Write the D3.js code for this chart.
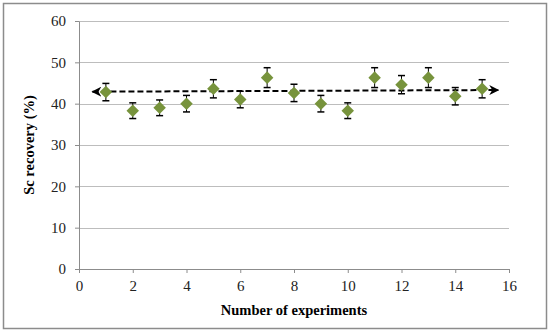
<!DOCTYPE html>
<html>
  <head>
    <meta charset="UTF-8">
    <title>Sc recovery</title>
    <style>
      body { margin: 0; background: #fff; }
      text { font-family: "Liberation Serif", "DejaVu Serif", serif; fill: #000; }
      .grid line { stroke: #bdbdbd; stroke-width: 1px; }
      .axis path, .axis line { stroke: #8c8c8c; }
      .axis text { font-size: 15px; fill: #222; }
      .title { font-size: 14.5px; font-weight: bold; }
    </style>
    <script src="https://d3js.org/d3.v7.min.js"></script>
  </head>
  <body>
    <script>
      // Data
      var experiments = [1, 2, 3, 4, 5, 6, 7, 8, 9, 10, 11, 12, 13, 14, 15];
      var recovery = [42.8, 38.3, 39.0, 40.0, 43.6, 41.0, 46.3, 42.6, 40.0, 38.3, 46.3, 44.6, 46.3, 41.8, 43.6];
      var errors = [2.1, 1.9, 1.9, 2.0, 2.2, 2.0, 2.4, 2.1, 2.0, 1.9, 2.4, 2.2, 2.4, 2.1, 2.2];
      var trendX = [0.5, 15.6];
      var trendY = [42.9, 43.3];
      var xTicks = [0, 2, 4, 6, 8, 10, 12, 14, 16];
      var yTicks = [0, 10, 20, 30, 40, 50, 60];

      var width = 550, height = 332;
      var margin = {top: 21, right: 41, bottom: 63, left: 79};
      var plotW = width - margin.left - margin.right,
          plotH = height - margin.top - margin.bottom;

      var svg = d3.select("body").append("svg")
          .attr("width", width)
          .attr("height", height);

      // outer frame
      svg.append("rect")
          .attr("x", 3.5).attr("y", 3.5)
          .attr("width", 543).attr("height", 325)
          .attr("fill", "none")
          .attr("stroke", "#8c8c8c")
          .attr("stroke-width", 1.5);

      var g = svg.append("g")
          .attr("transform", "translate(" + margin.left + "," + margin.top + ")");

      var x = d3.scaleLinear().domain([0, 16]).range([0, plotW]);
      var y = d3.scaleLinear().domain([0, 60]).range([plotH, 0]);

      // gridlines
      g.append("g").attr("class", "grid")
          .selectAll("line")
          .data(yTicks.filter(function(d) { return d > 0; }))
          .enter().append("line")
          .attr("x1", 0).attr("x2", plotW)
          .attr("y1", function(d) { return Math.round(y(d)) + 0.5; })
          .attr("y2", function(d) { return Math.round(y(d)) + 0.5; });

      // axes
      g.append("g").attr("class", "axis")
          .attr("transform", "translate(0," + plotH + ")")
          .call(d3.axisBottom(x).tickValues(xTicks).tickSize(4).tickSizeOuter(4).tickPadding(7));
      g.append("g").attr("class", "axis")
          .call(d3.axisLeft(y).tickValues(yTicks).tickSize(4).tickSizeOuter(0).tickPadding(9));

      // trend line with arrows
      var defs = svg.append("defs");
      defs.append("marker")
          .attr("id", "arrow")
          .attr("viewBox", "0 0 10 10")
          .attr("refX", 9).attr("refY", 5)
          .attr("markerWidth", 5).attr("markerHeight", 5)
          .attr("orient", "auto-start-reverse")
          .append("path")
          .attr("d", "M0,0 L10,5 L0,10 L3,5 Z")
          .attr("fill", "#000");

      g.append("line")
          .attr("x1", x(trendX[0])).attr("y1", y(trendY[0]))
          .attr("x2", x(trendX[1])).attr("y2", y(trendY[1]))
          .attr("stroke", "#000")
          .attr("stroke-width", 2)
          .attr("stroke-dasharray", "6,3")
          .attr("marker-start", "url(#arrow)")
          .attr("marker-end", "url(#arrow)");

      // error bars
      var bars = g.append("g").selectAll("g")
          .data(experiments)
          .enter().append("g");
      bars.append("line")
          .attr("x1", function(d) { return x(d); })
          .attr("x2", function(d) { return x(d); })
          .attr("y1", function(d, i) { return y(recovery[i] + errors[i]); })
          .attr("y2", function(d, i) { return y(recovery[i] - errors[i]); })
          .attr("stroke", "#000").attr("stroke-width", 1);
      [1, -1].forEach(function(s) {
          bars.append("line")
              .attr("x1", function(d) { return x(d) - 3.5; })
              .attr("x2", function(d) { return x(d) + 3.5; })
              .attr("y1", function(d, i) { return y(recovery[i] + s * errors[i]); })
              .attr("y2", function(d, i) { return y(recovery[i] + s * errors[i]); })
              .attr("stroke", "#000").attr("stroke-width", 1.5);
      });

      // diamond markers
      var diamond = d3.symbol().type(d3.symbolDiamond2).size(100);
      g.append("g").selectAll("path")
          .data(experiments)
          .enter().append("path")
          .attr("d", diamond)
          .attr("transform", function(d, i) {
              return "translate(" + x(d) + "," + y(recovery[i]) + ")";
          })
          .attr("fill", "#77933c");

      // titles
      svg.append("text")
          .attr("class", "title")
          .attr("x", margin.left + plotW / 2)
          .attr("y", 315)
          .attr("text-anchor", "middle")
          .text("Number of experiments");

      svg.append("text")
          .attr("class", "title")
          .attr("transform", "translate(34," + (margin.top + plotH / 2) + ") rotate(-90)")
          .attr("text-anchor", "middle")
          .text("Sc recovery (%)");
    </script>
  </body>
</html>
